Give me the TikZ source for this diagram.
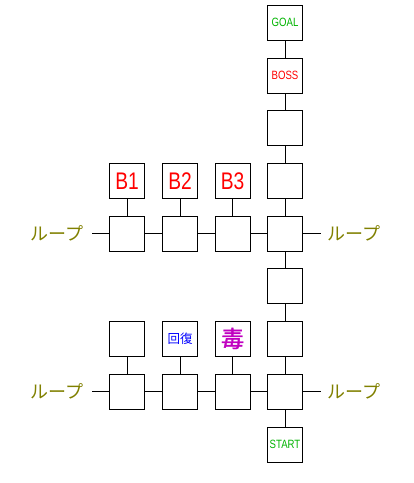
\documentclass[tikz,border=0pt]{standalone}
\usepackage{fontspec}
\setmainfont{Liberation Sans}
\newfontfamily\jp{Noto Sans CJK JP}
\newfontfamily\jpb[FakeBold=1.5]{Noto Sans CJK JP}
\usepackage{graphicx}
\definecolor{goalgreen}{RGB}{0,180,0}
\definecolor{bossred}{RGB}{255,0,0}
\definecolor{healblue}{RGB}{0,0,255}
\definecolor{poison}{RGB}{192,0,192}
\definecolor{loopolive}{RGB}{128,128,0}
\begin{document}
\begin{tikzpicture}[x=1pt,y=-1pt,
  room/.style={draw=black,line width=1pt,minimum size=35pt,inner sep=0pt,fill=white},
  conn/.style={draw=black,line width=1pt},
  looptext/.style={text=loopolive,font=\jp\fontsize{18}{18}\selectfont,inner sep=0pt}]
\useasboundingbox (0,0) rectangle (414,483);
% main column
\node[room] (goal) at (285,22.5) {\scalebox{0.8}[1]{\color{goalgreen}\fontsize{12}{12}\selectfont GOAL}};
\node[room] (boss) at (285,75.5) {\scalebox{0.8}[1]{\color{bossred}\fontsize{12}{12}\selectfont BOSS}};
\node[room] (m3) at (285,128) {};
\node[room] (m4) at (285,181) {};
\node[room] (j1) at (285,233.5) {};
\node[room] (m6) at (285,286) {};
\node[room] (m7) at (285,338.5) {};
\node[room] (j2) at (285,391.5) {};
\node[room] (start) at (285,444.5) {\scalebox{0.8}[1]{\color{goalgreen}\fontsize{12}{12}\selectfont START}};
% upper row
\node[room] (b1) at (127,181) {\scalebox{0.8}[1]{\color{bossred}\fontsize{24}{24}\selectfont B1}};
\node[room] (b2) at (180,181) {\scalebox{0.8}[1]{\color{bossred}\fontsize{24}{24}\selectfont B2}};
\node[room] (b3) at (232.5,181) {\scalebox{0.8}[1]{\color{bossred}\fontsize{24}{24}\selectfont B3}};
\node[room] (u1) at (127,233.5) {};
\node[room] (u2) at (180,233.5) {};
\node[room] (u3) at (232.5,233.5) {};
% lower row
\node[room] (l1top) at (127,338.5) {};
\node[room] (heal) at (180,338.5) {\jp\color{healblue}\fontsize{12.5}{12.5}\selectfont 回復};
\node[room] (poi) at (232.5,338.5) {\jpb\color{poison}\fontsize{23}{23}\selectfont 毒};
\node[room] (d1) at (127,391.5) {};
\node[room] (d2) at (180,391.5) {};
\node[room] (d3) at (232.5,391.5) {};
% loop stubs
\coordinate (ul) at (92,233.5);
\coordinate (ur) at (321,233.5);
\coordinate (dl) at (92,391.5);
\coordinate (dr) at (321,391.5);
\node[looptext] (tul) at (57,233.5) {ループ};
\node[looptext] (tur) at (354,233.5) {ループ};
\node[looptext] (tdl) at (57,391.5) {ループ};
\node[looptext] (tdr) at (354,391.5) {ループ};
% connectors
\draw[conn] (goal) -- (boss);
\draw[conn] (boss) -- (m3);
\draw[conn] (m3) -- (m4);
\draw[conn] (m4) -- (j1);
\draw[conn] (j1) -- (m6);
\draw[conn] (m6) -- (m7);
\draw[conn] (m7) -- (j2);
\draw[conn] (j2) -- (start);
\draw[conn] (b1) -- (u1);
\draw[conn] (b2) -- (u2);
\draw[conn] (b3) -- (u3);
\draw[conn] (ul) -- (u1);
\draw[conn] (u1) -- (u2);
\draw[conn] (u2) -- (u3);
\draw[conn] (u3) -- (j1);
\draw[conn] (j1) -- (ur);
\draw[conn] (l1top) -- (d1);
\draw[conn] (heal) -- (d2);
\draw[conn] (poi) -- (d3);
\draw[conn] (dl) -- (d1);
\draw[conn] (d1) -- (d2);
\draw[conn] (d2) -- (d3);
\draw[conn] (d3) -- (j2);
\draw[conn] (j2) -- (dr);
\end{tikzpicture}
\end{document}
